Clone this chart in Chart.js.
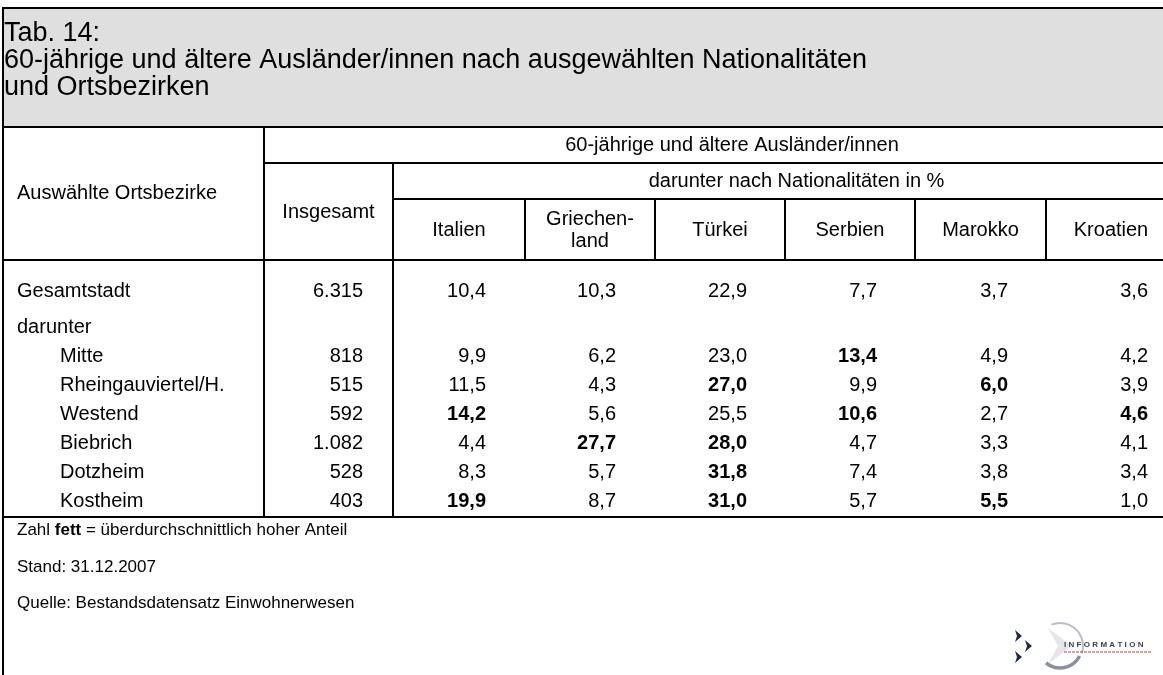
<!DOCTYPE html>
<html><head><meta charset="utf-8">
<script src="https://cdn.jsdelivr.net/npm/chart.js@4.4.1/dist/chart.umd.min.js"></script>
<style>html,body{margin:0;padding:0;background:#fff;overflow:hidden}#wrap{width:1163px;height:675px;position:relative}</style>
</head><body><div id="wrap"><canvas id="c"></canvas></div>
<script>
// ---------- DATA ----------
const titleLines = ["Tab. 14:", "60-jährige und ältere Ausländer/innen nach ausgewählten Nationalitäten", "und Ortsbezirken"];
const rowHeader = "Auswählte Ortsbezirke";
const groupHeader = "60-jährige und ältere Ausländer/innen";
const subHeader = "darunter nach Nationalitäten in %";
const totalHeader = "Insgesamt";
const nationalities = ["Italien", "Griechen-\nland", "Türkei", "Serbien", "Marokko", "Kroatien"];
const districts = ["Gesamtstadt", "darunter", "Mitte", "Rheingauviertel/H.", "Westend", "Biebrich", "Dotzheim", "Kostheim"];
const districtIndent = [0, 0, 1, 1, 1, 1, 1, 1];
const totals = [6315, null, 818, 515, 592, 1082, 528, 403];
const italien = [10.4, null, 9.9, 11.5, 14.2, 4.4, 8.3, 19.9];
const griechenland = [10.3, null, 6.2, 4.3, 5.6, 27.7, 5.7, 8.7];
const tuerkei = [22.9, null, 23.0, 27.0, 25.5, 28.0, 31.8, 31.0];
const serbien = [7.7, null, 13.4, 9.9, 10.6, 4.7, 7.4, 5.7];
const marokko = [3.7, null, 4.9, 6.0, 2.7, 3.3, 3.8, 5.5];
const kroatien = [3.6, null, 4.2, 3.9, 4.6, 4.1, 3.4, 1.0];
const boldItalien = [0, 0, 0, 0, 1, 0, 0, 1];
const boldGriechenland = [0, 0, 0, 0, 0, 1, 0, 0];
const boldTuerkei = [0, 0, 0, 1, 0, 1, 1, 1];
const boldSerbien = [0, 0, 1, 0, 1, 0, 0, 0];
const boldMarokko = [0, 0, 0, 1, 0, 0, 0, 1];
const boldKroatien = [0, 0, 0, 0, 1, 0, 0, 0];
const footnoteParts = [["Zahl ", false], ["fett", true], [" = überdurchschnittlich hoher Anteil", false]];
const standText = "Stand: 31.12.2007";
const quelleText = "Quelle: Bestandsdatensatz Einwohnerwesen";
const logoText = "INFORMATION";

// ---------- LAYOUT (pixel units of the hidden linear scales) ----------
const W = 1163, H = 675;
const FONT = '"Liberation Sans", Arial, Helvetica, sans-serif';
const BODY = "20px " + FONT;
const colEdges = [3, 264, 393, 525, 655, 785, 915, 1046, 1176];
const numRight = [363, 486, 616, 747, 877, 1008, 1148];
const rowY = i => i === 0 ? 291 : 327 + (i - 1) * 29;

const valueCols = [totals, italien, griechenland, tuerkei, serbien, marokko, kroatien];
const boldCols = [null, boldItalien, boldGriechenland, boldTuerkei, boldSerbien, boldMarokko, boldKroatien];

function fmt(v, c) {
  if (c === 0) return String(v).replace(/\B(?=(\d{3})+(?!\d))/g, ".");
  return v.toFixed(1).replace(".", ",");
}

const datasets = [];
datasets.push({
  label: rowHeader, kind: "label",
  data: districts.map((d, i) => ({ x: districtIndent[i] ? 60 : 17, y: rowY(i), text: d, bold: false })),
  pointRadius: 0
});
valueCols.forEach((arr, c) => {
  datasets.push({
    label: c === 0 ? totalHeader : nationalities[c - 1], kind: "value",
    data: arr.map((v, i) => v == null ? null : ({ x: numRight[c], y: rowY(i), text: fmt(v, c), bold: !!(boldCols[c] && boldCols[c][i]) })).filter(p => p),
    pointRadius: 0
  });
});

const tablePlugin = {
  id: "tablePlugin",
  beforeDatasetsDraw(chart) {
    const ctx = chart.ctx, xs = chart.scales.x, ys = chart.scales.y;
    const X = v => xs.getPixelForValue(v), Y = v => ys.getPixelForValue(v);
    ctx.save();
    ctx.fillStyle = "#dfdfdf";
    ctx.fillRect(X(3), Y(8), X(W + 10) - X(3), Y(127) - Y(8));
    ctx.strokeStyle = "#000"; ctx.lineWidth = 2;
    const line = (x1, y1, x2, y2) => { ctx.beginPath(); ctx.moveTo(X(x1), Y(y1)); ctx.lineTo(X(x2), Y(y2)); ctx.stroke(); };
    line(3, 8, W + 10, 8);
    line(3, 7, 3, H + 10);
    line(3, 127, W + 10, 127);
    line(264, 163, W + 10, 163);
    line(393, 199, W + 10, 199);
    line(3, 260, W + 10, 260);
    line(3, 517, W + 10, 517);
    line(264, 127, 264, 517);
    line(393, 163, 393, 517);
    for (let k = 3; k < colEdges.length - 1; k++) line(colEdges[k], 199, colEdges[k], 260);
    // title
    ctx.fillStyle = "#000";
    ctx.textBaseline = "middle"; ctx.textAlign = "left";
    ctx.font = "27px " + FONT;
    titleLines.forEach((t, i) => ctx.fillText(t, X(4), Y(34 + i * 27)));
    // headers
    ctx.font = BODY;
    ctx.fillText(rowHeader, X(17), Y(193));
    ctx.textAlign = "center";
    ctx.fillText(groupHeader, X((264 + 1200) / 2), Y(145));
    ctx.fillText(subHeader, X((393 + 1200) / 2), Y(181));
    ctx.fillText(totalHeader, X((264 + 393) / 2), Y(212));
    nationalities.forEach((n, k) => {
      const cx = (colEdges[k + 2] + colEdges[k + 3]) / 2;
      const parts = n.split("\n");
      if (parts.length === 1) ctx.fillText(n, X(cx), Y(230));
      else parts.forEach((p, j) => ctx.fillText(p, X(cx), Y(219 + j * 22)));
    });
    // footer
    ctx.textAlign = "left";
    let fx = X(17);
    footnoteParts.forEach(([t, b]) => {
      ctx.font = (b ? "bold " : "") + "17px " + FONT;
      ctx.fillText(t, fx, Y(530));
      fx += ctx.measureText(t).width;
    });
    ctx.font = "17px " + FONT;
    ctx.fillText(standText, X(17), Y(567));
    ctx.fillText(quelleText, X(17), Y(603));
    // logo
    const lx = X(1060), ly = Y(646);
    ctx.fillStyle = "#e4e6ec";
    ctx.beginPath(); ctx.moveTo(lx - 12, ly - 18); ctx.lineTo(lx + 12, ly); ctx.lineTo(lx - 12, ly + 18); ctx.lineTo(lx - 2, ly); ctx.closePath(); ctx.fill();
    ctx.lineWidth = 2; ctx.strokeStyle = "#b9bdc8";
    ctx.beginPath(); ctx.arc(lx, ly, 23, -Math.PI * 0.62, Math.PI * 0.1); ctx.stroke();
    ctx.lineWidth = 3.5; ctx.strokeStyle = "#8a90a0";
    ctx.beginPath(); ctx.arc(lx, ly, 22, Math.PI * 0.15, Math.PI * 0.72); ctx.stroke();
    ctx.fillStyle = "#1f2b45";
    const chev = (x, y) => { ctx.beginPath(); ctx.moveTo(x, y - 6); ctx.lineTo(x + 7, y); ctx.lineTo(x, y + 6); ctx.lineTo(x + 2, y); ctx.closePath(); ctx.fill(); };
    chev(X(1015), Y(636)); chev(X(1025), Y(646)); chev(X(1015), Y(657));
    ctx.fillStyle = "#3a4256"; ctx.font = "bold 8px " + FONT;
    ctx.textAlign = "left";
    let tx = X(1064);
    for (const ch of logoText) { ctx.fillText(ch, tx, Y(645)); tx += ctx.measureText(ch).width + 2.3; }
    ctx.strokeStyle = "#c0392b"; ctx.lineWidth = 1; ctx.setLineDash([3, 1]);
    ctx.beginPath(); ctx.moveTo(X(1064), Y(652)); ctx.lineTo(X(1151), Y(652)); ctx.stroke();
    ctx.restore();
  },
  afterDatasetsDraw(chart) {
    const ctx = chart.ctx;
    ctx.save();
    ctx.fillStyle = "#000"; ctx.textBaseline = "middle";
    chart.data.datasets.forEach((ds, di) => {
      const meta = chart.getDatasetMeta(di);
      ctx.textAlign = ds.kind === "label" ? "left" : "right";
      meta.data.forEach((el, i) => {
        const p = ds.data[i];
        ctx.font = (p.bold ? "bold " : "") + BODY;
        ctx.fillText(p.text, el.x, el.y);
      });
    });
    ctx.restore();
  }
};

new Chart(document.getElementById("c"), {
  type: "scatter",
  data: { datasets },
  options: {
    responsive: true, maintainAspectRatio: false, animation: false,
    layout: { padding: 0 },
    plugins: { legend: { display: false }, tooltip: { enabled: false }, title: { display: false } },
    scales: {
      x: { type: "linear", display: false, min: 0, max: W },
      y: { type: "linear", display: false, min: 0, max: H, reverse: true }
    }
  },
  plugins: [tablePlugin]
});
</script>
</body></html>
